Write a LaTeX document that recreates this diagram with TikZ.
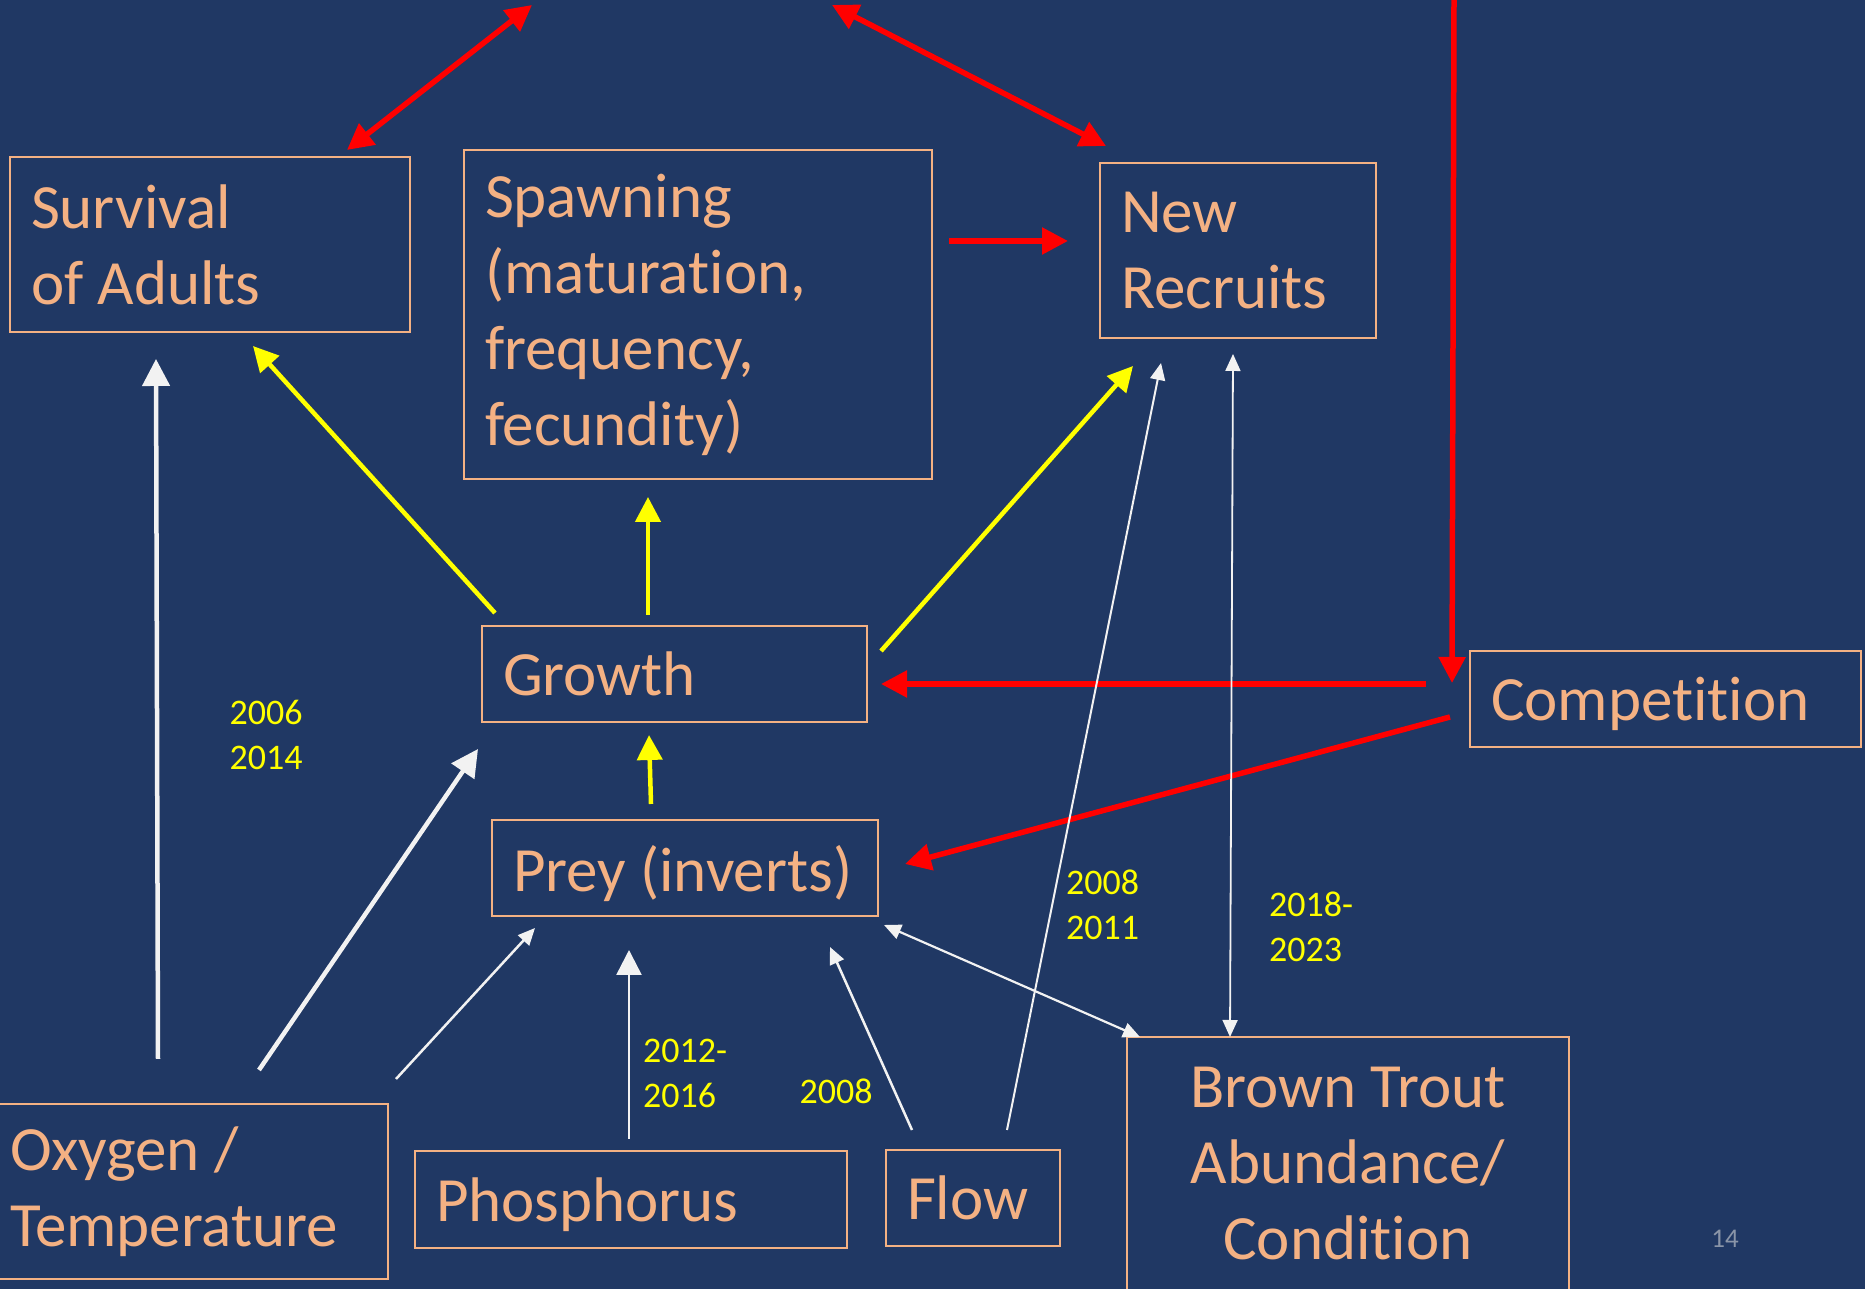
\documentclass[tikz,border=0pt]{standalone}
\usepackage{fontspec}
\setmainfont{Carlito}[Ligatures=NoCommon]
\usepackage{tikz}
\usetikzlibrary{arrows.meta}

\definecolor{bgnavy}{HTML}{203864}
\definecolor{boxorange}{HTML}{F4B183}
\definecolor{yrs}{HTML}{FFFF00}
\definecolor{wht}{HTML}{F2F2F2}
\definecolor{pagegray}{HTML}{8A95A8}

\begin{document}
\begin{tikzpicture}[x=1pt, y=1pt,
	box/.style={draw=boxorange, line width=2pt, text=boxorange, inner xsep=21pt, inner ysep=0pt,
		outer sep=0pt, align=flush left, font=\fontsize{63}{76}\selectfont},
	oneline/.style={box, text depth=0pt},
	yrlabel/.style={text=yrs, inner sep=0pt, text depth=0pt, align=left, font=\fontsize{36}{45}\selectfont},
	redarr/.style={-{Triangle[length=26pt,width=26pt]}, red, line width=5.5pt},
	redboth/.style={{Triangle[length=26pt,width=26pt]}-{Triangle[length=26pt,width=26pt]}, red, line width=5.5pt},
	yelarr/.style={-{Triangle[length=25pt,width=25pt]}, yrs, line width=4.5pt},
	whtarr/.style={-{Triangle[length=27pt,width=27pt]}, wht, line width=4.5pt},
	thinarr/.style={-{Triangle[length=17pt,width=15pt]}, wht, line width=2.5pt},
	thinboth/.style={{Triangle[length=17pt,width=15pt]}-{Triangle[length=17pt,width=15pt]}, wht, line width=2.2pt}]

		% 1. Background of the slide
		\useasboundingbox (0,0) rectangle (1865,1289);
		\fill[bgnavy] (0,0) rectangle (1865,1289);

		% 2. The boxes
		\node[box, text width=358pt, minimum height=175pt] (surv) at (210,1044.5) {Survival\\of Adults};
		\node[box, text width=426pt, minimum height=329pt] (spawn) at (698,974.5) {Spawning\\(maturation,\\frequency,\\fecundity)};
		\node[box, text width=234pt, minimum height=175pt] (recruit) at (1238,1038.5) {New\\Recruits};
		\node[oneline, text width=343pt, minimum height=96pt] (growth) at (674.5,615) {Growth};
		\node[oneline, text width=349pt, minimum height=96pt] (compet) at (1665.5,590) {Competition};
		\node[oneline, text width=344pt, minimum height=96pt] (prey) at (685,421) {\mbox{Prey (inverts)}};
		\node[box, text width=357pt, minimum height=175pt] (oxy) at (188.5,97.5) {Oxygen /\\Temperature};
		\node[oneline, text width=390pt, minimum height=97pt] (phos) at (631,89.5) {Phosphorus};
		\node[oneline, text width=132pt, minimum height=96pt] (flow) at (973,91) {Flow};
		\node[box, align=flush center, text width=400pt, minimum height=254pt] (trout) at (1348,125) {Brown Trout\\Abundance/\\Condition};

		% 3. Free ends of the red arrows (above the slide)
		\coordinate (topA) at (532,1284);
		\coordinate (topB) at (832,1284);
		\coordinate (topC) at (1454,1289);

		% 4. Red arrows
		\draw[redboth] ([shift={(-63,7)}]surv.north east) -- (topA);
		\draw[redboth] (topB) -- ([shift={(6,17)}]recruit.north west);
		\draw[redarr] (topC) -- ([shift={(-18,16)}]compet.west);
		\draw[redarr] ([shift={(17,-91)}]spawn.north east) -- ([shift={(-32,9.5)}]recruit.west);
		\draw[redarr] ([shift={(-44,15)}]compet.west) -- ([shift={(14,-10)}]growth.east);
		\draw[redarr] ([shift={(-20,-18)}]compet.west) -- ([shift={(27,4)}]prey.east);

		% 5. Yellow arrows out of growth
		\draw[yelarr] ([shift={(13,13)}]growth.north west) -- ([shift={(43,-14)}]surv.south);
		\draw[yelarr] ([shift={(-26.5,11)}]growth.north) -- ([shift={(-50,-18)}]spawn.south);
		\draw[yelarr] ([shift={(14,-25)}]growth.north east) -- ([shift={(-105,-28)}]recruit.south);
		\draw[yelarr] ([shift={(-34,16)}]prey.north) -- ([shift={(-25.5,-13)}]growth.south);

		% 6. White arrows
		\draw[whtarr] ([shift={(-30.5,45)}]oxy.north) -- ([shift={(-54,-27)}]surv.south);
		\draw[whtarr] ([shift={(-129,34)}]oxy.north east) -- ([shift={(-4,-27)}]growth.south west);
		\draw[thinarr] ([shift={(8,25)}]oxy.north east) -- ([shift={(-150,-12)}]prey.south);
		\draw[thinarr, -{Triangle[length=25pt,width=25pt]}] ([shift={(-2,12)}]phos.north) -- ([shift={(-56,-34)}]prey.south);
		\draw[thinarr] ([shift={(-61,20)}]flow.north) -- ([shift={(-48,-31)}]prey.south east);
		\draw[thinarr, line width=2pt] ([shift={(34,20)}]flow.north) -- ([shift={(-77,-25)}]recruit.south);
		\draw[thinboth] ([shift={(6,-9)}]prey.south east) -- ([shift={(13,0)}]trout.north west);
		\draw[thinboth, line width=1.8pt] ([shift={(-5,-16)}]recruit.south) -- ([shift={(-118,0)}]trout.north);

		% 7. Years of the data
		\node[yrlabel] (yrA) at (266,554) {2006\\2014};
		\node[yrlabel, anchor=west] (yrB) at (643,216) {2012-\\2016};
		\node[yrlabel] (yrC) at (836,198) {2008};
		\node[yrlabel, anchor=west] (yrD) at (1066,384) {2008\\2011};
		\node[yrlabel, anchor=west] (yrE) at (1269,362.5) {2018-\\2023};

		% 8. Slide number
		\node[text=pagegray, inner sep=0pt, font=\fontsize{27}{32}\selectfont] (pgnum) at (1725,50) {14};
	\end{tikzpicture}
\end{document}
